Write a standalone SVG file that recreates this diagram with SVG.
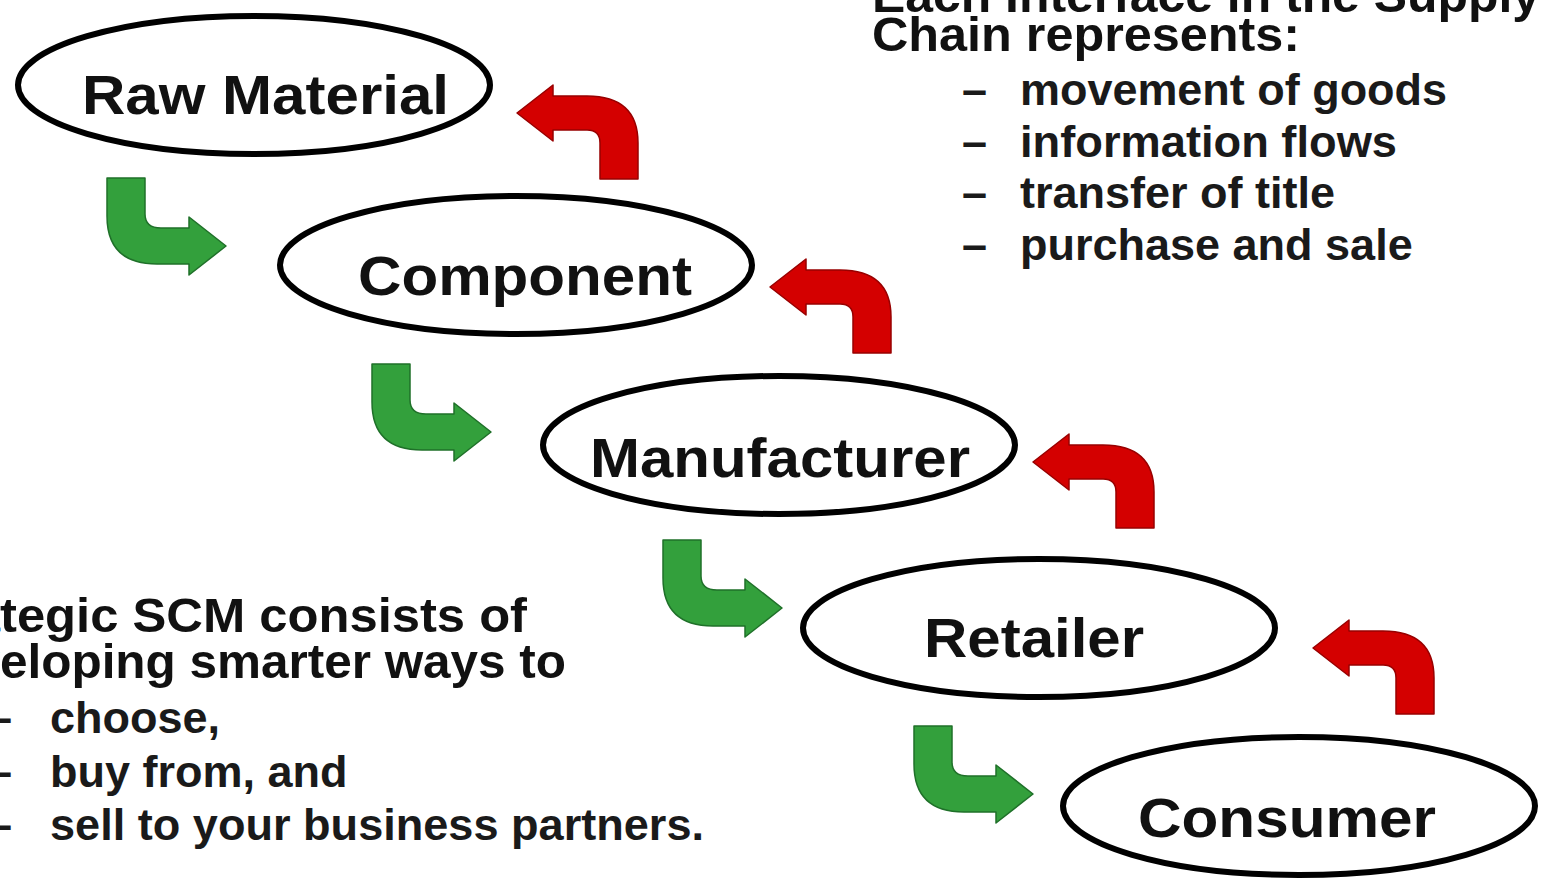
<svg xmlns="http://www.w3.org/2000/svg" width="1554" height="878" viewBox="0 0 1554 878">
<style>
  .node ellipse { fill: #ffffff; stroke: #000000; stroke-width: 6; }
  .label { font-family: "Liberation Sans", Arial, sans-serif; font-weight: bold; font-size: 56px; fill: #111111; }
  .head { font-family: "Liberation Sans", Arial, sans-serif; font-weight: bold; font-size: 48px; fill: #111111; }
  .item { font-family: "Liberation Sans", Arial, sans-serif; font-weight: bold; font-size: 45px; fill: #1a1a1a; }
  .green { fill: #33a03c; stroke: #1f7029; stroke-width: 1.5; stroke-linejoin: round; }
  .red { fill: #d40000; stroke: #980000; stroke-width: 1.5; stroke-linejoin: round; }
</style>
<defs>
  <path id="garrow" d="M0,0 H38 V36 Q38,50 54,50 H82 V39 L119,68 L82,97 V86 H50 Q0,86 0,38 Z"/>
  <path id="rarrow" d="M0,0 L36,-28 V-17 H70 Q121,-17 121,30 V66 H83 V30 Q83,17 70,17 H36 V28 Z"/>
</defs>
<rect width="1554" height="878" fill="#ffffff"/>

<g id="connectors">
  <use href="#garrow" class="green" transform="translate(107,178)"/>
  <use href="#garrow" class="green" transform="translate(372,364)"/>
  <use href="#garrow" class="green" transform="translate(663,540)"/>
  <use href="#garrow" class="green" transform="translate(914,726)"/>
  <use href="#rarrow" class="red" transform="translate(517,113)"/>
  <use href="#rarrow" class="red" transform="translate(770,287)"/>
  <use href="#rarrow" class="red" transform="translate(1033,462)"/>
  <use href="#rarrow" class="red" transform="translate(1313,648)"/>
</g>

<g id="node-raw-material" class="node">
  <ellipse cx="254" cy="85" rx="236" ry="69"/>
  <text class="label" x="82" y="114" textLength="367" lengthAdjust="spacingAndGlyphs">Raw Material</text>
</g>
<g id="node-component" class="node">
  <ellipse cx="516" cy="265" rx="236" ry="69"/>
  <text class="label" x="358" y="295" textLength="334" lengthAdjust="spacingAndGlyphs">Component</text>
</g>
<g id="node-manufacturer" class="node">
  <ellipse cx="779" cy="445" rx="236" ry="69"/>
  <text class="label" x="590" y="477" textLength="380" lengthAdjust="spacingAndGlyphs">Manufacturer</text>
</g>
<g id="node-retailer" class="node">
  <ellipse cx="1039" cy="628" rx="236" ry="69"/>
  <text class="label" x="924" y="657" textLength="220" lengthAdjust="spacingAndGlyphs">Retailer</text>
</g>
<g id="node-consumer" class="node">
  <ellipse cx="1299" cy="806" rx="236" ry="69"/>
  <text class="label" x="1138" y="837" textLength="298" lengthAdjust="spacingAndGlyphs">Consumer</text>
</g>

<g id="interface-text">
  <text class="head" x="872" y="12" textLength="668" lengthAdjust="spacingAndGlyphs">Each Interface in the Supply</text>
  <text class="head" x="872" y="51" textLength="428" lengthAdjust="spacingAndGlyphs">Chain represents:</text>
  <text class="item" x="962" y="105">–</text>
  <text class="item" x="1020" y="105" textLength="427" lengthAdjust="spacingAndGlyphs">movement of goods</text>
  <text class="item" x="962" y="157">–</text>
  <text class="item" x="1020" y="157" textLength="377" lengthAdjust="spacingAndGlyphs">information flows</text>
  <text class="item" x="962" y="208">–</text>
  <text class="item" x="1020" y="208">transfer of title</text>
  <text class="item" x="962" y="260">–</text>
  <text class="item" x="1020" y="260">purchase and sale</text>
</g>

<g id="scm-text">
  <text class="head" y="632"><tspan x="0" text-anchor="end">Stra</tspan><tspan x="0" textLength="527" lengthAdjust="spacingAndGlyphs">tegic SCM consists of</tspan></text>
  <text class="head" y="678"><tspan x="0" text-anchor="end">Dev</tspan><tspan x="0" textLength="566" lengthAdjust="spacingAndGlyphs">eloping smarter ways to</tspan></text>
  <text class="item" x="-13" y="733">–</text>
  <text class="item" x="50" y="733">choose,</text>
  <text class="item" x="-13" y="787">–</text>
  <text class="item" x="50" y="787">buy from, and</text>
  <text class="item" x="-13" y="840">–</text>
  <text class="item" x="50" y="840" textLength="654" lengthAdjust="spacingAndGlyphs">sell to your business partners.</text>
</g>
</svg>
